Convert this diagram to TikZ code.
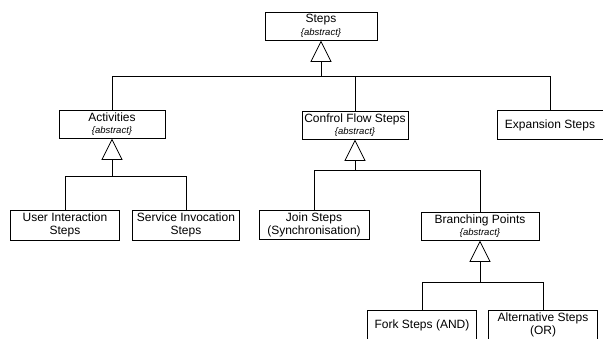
\documentclass[tikz,border=0pt]{standalone}
\usepackage{fontspec}
\setmainfont{Liberation Sans}
\usetikzlibrary{shapes.geometric}
\newcommand{\abstr}{\\[-1pt]{\fontsize{9.5}{10}\selectfont\itshape\{abstract\}}}

\begin{document}
\begin{tikzpicture}[x=1pt,y=-1pt,line width=.8pt,
    cls/.style={draw, rectangle, align=center, inner sep=1pt, minimum height=28pt,
      font=\fontsize{12}{13.5}\selectfont},
    gen/.style={draw, fill=white, isosceles triangle, shape border rotate=90,
      isosceles triangle stretches, minimum width=20pt, minimum height=20pt,
      inner sep=0pt, anchor=apex}]
  \useasboundingbox (0,0) rectangle (603,338);
  \clip (0,0) rectangle (603,338);

      % classes
      \node (steps) at (321,26)  [cls, minimum width=112pt] {Steps\abstr};
      \node (act) at (112,124)   [cls, minimum width=106pt] {Activities\abstr};
      \node (cfs) at (355,125)   [cls, minimum width=106pt] {Confrol Flow Steps\abstr};
      \node (exp) at (550,125)   [cls, minimum width=106pt, minimum height=29pt] {Expansion Steps};
      \node (uis) at (65,225)    [cls, minimum width=109pt, minimum height=30pt] {User Interaction\\Steps};
      \node (sis) at (186,225)   [cls, minimum width=107pt, minimum height=30pt] {Service Invocation\\Steps};
      \node (join) at (314,225)  [cls, minimum width=110pt, minimum height=29pt] {Join Steps\\(Synchronisation)};
      \node (brp) at (480,226)   [cls, minimum width=118pt] {Branching Points\abstr};
      \node (fork) at (422,325)  [cls, minimum width=109pt, minimum height=30pt] {Fork Steps (AND)};
      \node (alt) at (543,325)   [cls, minimum width=109pt, minimum height=30pt] {Alternative Steps\\(OR)};

      % Steps
      \node (g1) at (steps.south) [gen] {};
      \draw (g1.lower side) -- ++(0,15) coordinate (b1);
      \draw (act.north) |- (b1) -| (exp.north);
      \draw (cfs.north) -- (cfs.north |- b1);

      % Activities
      \node (g2) at (act.south) [gen] {};
      \draw (g2.lower side) -- ++(0,17) coordinate (b2);
      \draw (uis.north) |- (b2) -| (sis.north);

      % Confrol Flow Steps
      \node (g3) at (cfs.south) [gen] {};
      \draw (g3.lower side) -- ++(0,10) coordinate (b3);
      \draw (join.north) |- (b3) -| (brp.north);

      % Branching Points
      \node (g4) at (brp.south) [gen] {};
      \draw (g4.lower side) -- ++(0,21) coordinate (b4);
      \draw (fork.north) |- (b4) -| (alt.north);
\end{tikzpicture}
\end{document}
